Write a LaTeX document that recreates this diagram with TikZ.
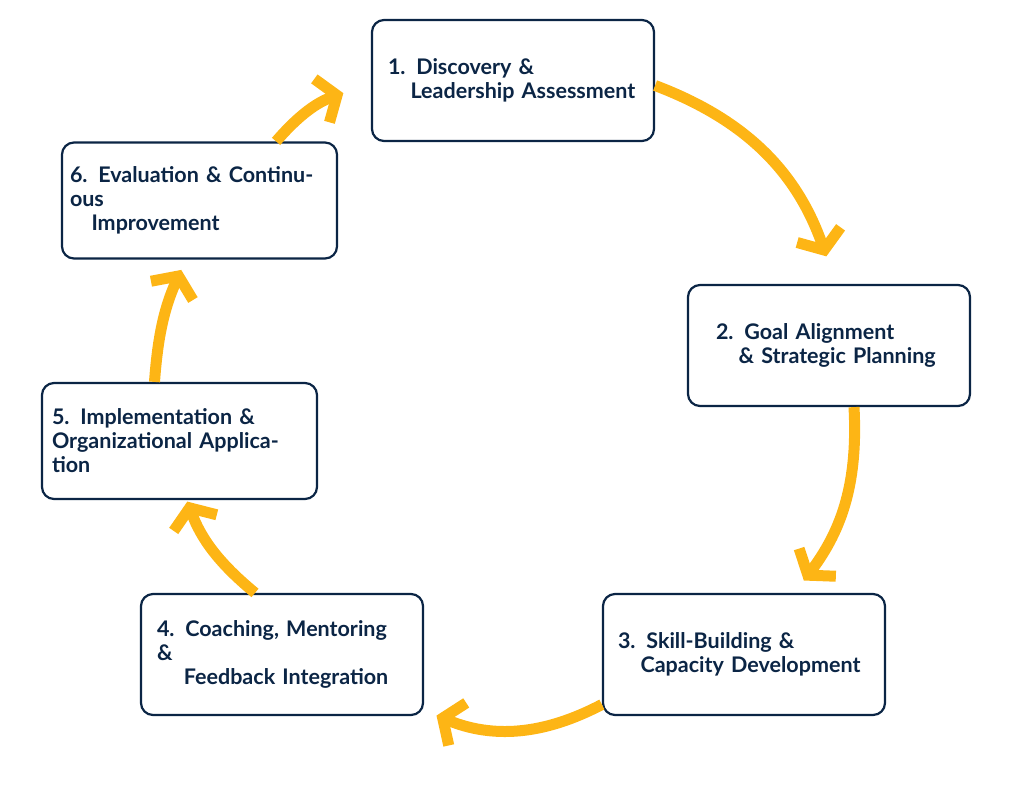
\documentclass[tikz,border=0pt]{standalone}
\usepackage{fontspec}
\setmainfont{Lato}
\usetikzlibrary{arrows.meta}
\definecolor{navy}{HTML}{0B2545}
\definecolor{gold}{HTML}{FDB515}
\tikzset{
  stage/.style={draw=navy, line width=2.2pt, rounded corners=12pt, fill=white,
    minimum width=282pt, minimum height=121pt, text=navy, align=left,
    text width=250pt, font=\fontsize{21.5}{24}\selectfont\bfseries},
  flow/.style={draw=gold, line width=11pt,
    -{Straight Barb[length=16pt,width=46pt]}, shorten >=8pt}
}
\begin{document}
\begin{tikzpicture}[x=1pt, y=-1pt]
    \useasboundingbox (0,0) rectangle (1024,796);
    
    \node[stage] (d1) at (513,80.5) {1. Discovery \&\\\hspace{1.05em}Leadership Assessment};
    \node[stage, text width=226pt] (d2) at (829,345.5) {2. Goal Alignment\\\hspace{1.05em}\& Strategic Planning};
    \node[stage, text width=252pt] (d3) at (744,654.5) {3. Skill-Building \&\\\hspace{1.05em}Capacity Development};
    \node[stage] (d4) at (282,654.5) {4. Coaching, Mentoring \&\\\hspace{1.25em}Feedback Integration};
    \node[stage, minimum width=275pt, minimum height=116pt, text width=255pt] (d5) at (179.5,441) {5. Implementation \&\\Organizational Application};
    \node[stage, minimum width=275pt, minimum height=116pt, text width=259pt] (d6) at (199.5,200.5) {6. Evaluation \& Continuous\\\hspace{1.0em}Improvement};
    
    \draw[flow] ([yshift=-5pt]d1.east) to[bend left=25] ([yshift=20pt]d2.north);
    \draw[flow] ([xshift=25pt]d2.south) to[bend left=20] ([xshift=55pt,yshift=6pt]d3.north);
    \draw[flow] ([yshift=-50pt]d3.west) to[bend left=25] ([xshift=5pt,yshift=-58pt]d4.east);
    \draw[flow] ([xshift=-27pt]d4.north) to[bend left=15] ([xshift=5pt,yshift=6pt]d5.south);
    \draw[flow] ([xshift=-25pt]d5.north) to[bend left=10] ([xshift=-15pt,yshift=-3pt]d6.south);
    \draw[flow] ([xshift=-62pt]d6.north east) to[bend left=15] ([xshift=-20pt,yshift=-10pt]d1.west);
\end{tikzpicture}
\end{document}
